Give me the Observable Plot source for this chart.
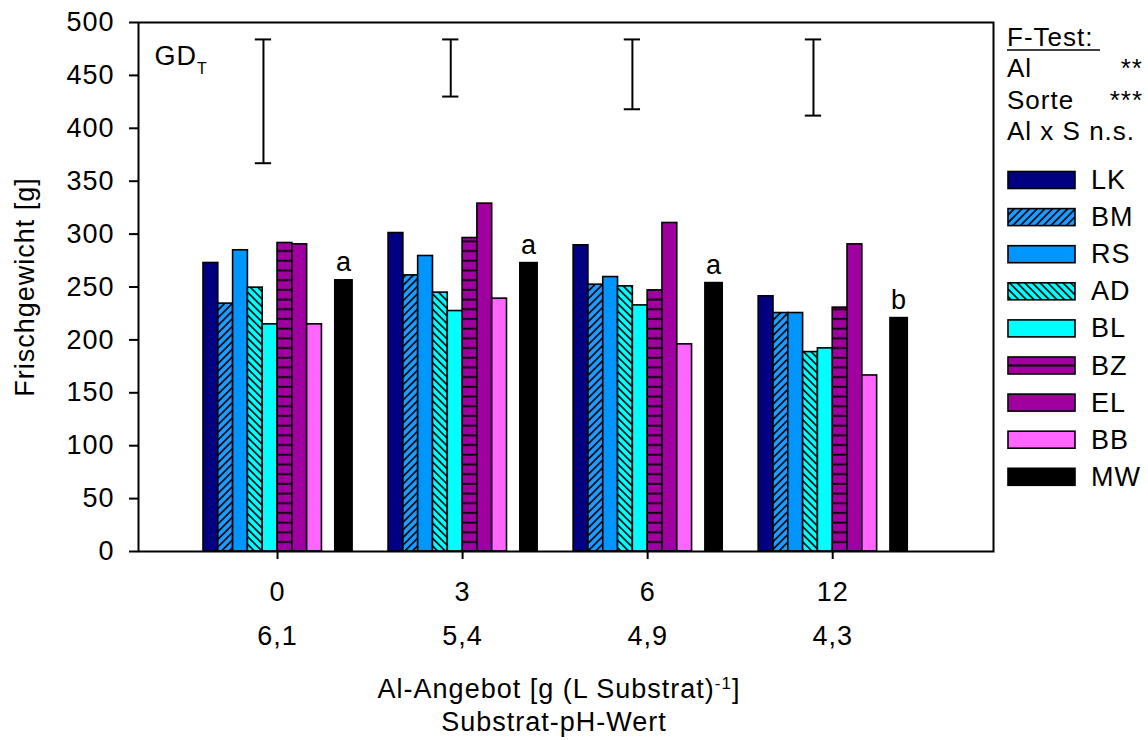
<!DOCTYPE html>
<html><head><meta charset="utf-8">
<script src="https://cdn.jsdelivr.net/npm/d3@7"></script>
<script src="https://cdn.jsdelivr.net/npm/@observablehq/plot@0.6"></script>
<style>
body{margin:0;background:#fff;}
#wrap{position:relative;width:1148px;height:740px;font-family:"Liberation Sans",Arial,sans-serif;}
#wrap svg{position:absolute;left:0;top:0;}
#wrap svg text{letter-spacing:1px;}
</style></head><body><div id="wrap"></div>
<script>
// ---- data ----
const groups = ["0", "3", "6", "12"];              // Al-Angebot
const phValues = ["6,1", "5,4", "4,9", "4,3"];     // Substrat-pH-Wert
const cultivars = ["LK", "BM", "RS", "AD", "BL", "BZ", "EL", "BB", "MW"];
const LK = [272.7, 301.0, 289.4, 241.2];
const BM = [234.3, 261.0, 252.2, 225.4];
const RS = [284.7, 279.3, 259.4, 225.4];
const AD = [249.4, 244.7, 250.6, 188.5];
const BL = [214.7, 227.3, 232.6, 192.0];
const BZ = [291.6, 296.3, 246.8, 230.5];
const EL = [290.3, 328.8, 310.5, 290.3];
const BB = [214.7, 239.0, 195.8, 166.4];
const MW = [256.3, 272.6, 253.7, 220.6];
const letters = ["a", "a", "a", "b"];
const gdTop = [484, 484, 484, 484];
const gdBottom = [367, 430, 418, 412];
const yTicks = [0, 50, 100, 150, 200, 250, 300, 350, 400, 450, 500];
const fTestLabels = ["Al", "Sorte", "Al x S n.s."];
const fTestStars = ["**", "***", ""];

// ---- layout (slot units) ----
const series = {LK, BM, RS, AD, BL, BZ, EL, BB, MW};
const groupStep = 12.5;
const gdOffset = [4.05, 4.2, 3.97, 3.7];
const fills = ["#000080", "url(#pBM)", "#0096FF", "url(#pAD)", "#00FFFF", "url(#pBZ)", "#A000A0", "#FF66FF", "#000000"];
const FS = "27px";

const rows = [];
groups.forEach((g, gi) => cultivars.forEach((c, ci) => {
  const start = ci < 8 ? ci : 8.9;
  const end = ci < 8 ? ci + 1 : 10.07;
  rows.push({group: g, cultivar: c, value: series[c][gi], x1: gi * groupStep + start, x2: gi * groupStep + end});
}));
const mwRows = rows.filter(d => d.cultivar === "MW").map((d, i) => ({...d, letter: letters[i]}));
const centers = groups.map((g, gi) => ({group: g, ph: phValues[gi], x: gi * groupStep + 5}));
const gd = groups.map((g, gi) => ({x: gi * groupStep + gdOffset[gi], top: gdTop[gi], bottom: gdBottom[gi]}));

const chart = Plot.plot({
  width: 1148, height: 740,
  marginLeft: 138, marginRight: 155, marginTop: 22, marginBottom: 189,
  style: {fontSize: FS, fontFamily: "Liberation Sans, Arial, sans-serif", color: "black", background: "transparent"},
  x: {type: "linear", domain: [-4.39, 53.36]},
  y: {domain: [0, 500]},
  color: {type: "ordinal", domain: cultivars, range: fills},
  marks: [
    Plot.rect(rows, {x1: "x1", x2: "x2", y1: d => 0, y2: "value", fill: "cultivar", stroke: "black", strokeWidth: 1.6}),
    Plot.ruleX(gd, {x: "x", y1: "bottom", y2: "top", stroke: "black", strokeWidth: 2}),
    Plot.ruleY(gd, {y: "top", x1: d => d.x - 0.55, x2: d => d.x + 0.55, stroke: "black", strokeWidth: 2}),
    Plot.ruleY(gd, {y: "bottom", x1: d => d.x - 0.55, x2: d => d.x + 0.55, stroke: "black", strokeWidth: 2}),
    Plot.text(mwRows, {x: d => (d.x1 + d.x2) / 2, y: "value", text: "letter", dy: -18, lineAnchor: "middle", fill: "black"}),
    Plot.text(["GD"], {frameAnchor: "top-left", dx: 16, dy: 34, textAnchor: "start", lineAnchor: "middle", fill: "black"}),
    Plot.axisY({ticks: yTicks, tickSize: 9, tickPadding: 15, strokeWidth: 2, label: null}),
    Plot.axisX({ticks: centers.map(d => d.x), tickFormat: v => groups[Math.round((v - 5) / groupStep)], tickSize: 8, tickPadding: 22, strokeWidth: 2, label: null}),
    Plot.text(centers, {x: "x", text: "ph", frameAnchor: "bottom", dy: 85, lineAnchor: "middle", fill: "black"}),
    Plot.text(["Al-Angebot [g (L Substrat)-1]"], {frameAnchor: "bottom", dx: -7, dy: 138, lineAnchor: "middle", fill: "black"}),
    Plot.text(["Substrat-pH-Wert"], {frameAnchor: "bottom", dx: -12, dy: 171, lineAnchor: "middle", fill: "black"}),
    Plot.text(["Frischgewicht [g]"], {frameAnchor: "left", dx: -113, rotate: -90, textAnchor: "middle", lineAnchor: "middle", fill: "black"}),
    Plot.frame({stroke: "black", strokeWidth: 2})
  ]
});

const wrap = d3.select("#wrap");
wrap.node().appendChild(chart);
const svg = d3.select(chart);
svg.selectAll("text").filter(function() { return this.textContent === "GD"; }).each(function() {
  d3.select(this).append("tspan").attr("baseline-shift", "sub").attr("font-size", "16px").text("T");
});
svg.selectAll("text").filter(function() { return this.textContent === "Al-Angebot [g (L Substrat)-1]"; }).each(function() {
  const t = d3.select(this);
  t.text(null);
  t.append("tspan").text("Al-Angebot [g (L Substrat)");
  t.append("tspan").attr("baseline-shift", "super").attr("font-size", "17px").text("-1");
  t.append("tspan").text("]");
});

// pattern defs + legend overlay
const leg = wrap.append("svg").attr("width", 1148).attr("height", 740)
  .style("font-family", "Liberation Sans, Arial, sans-serif").style("font-size", FS);
const defs = leg.append("defs");
function diag(id, bg, angle) {
  const p = defs.append("pattern").attr("id", id).attr("patternUnits", "userSpaceOnUse")
    .attr("width", 5.4).attr("height", 5.4).attr("patternTransform", `rotate(${angle})`);
  p.append("rect").attr("width", 5.4).attr("height", 5.4).attr("fill", bg);
  p.append("line").attr("x1", 0.8).attr("x2", 0.8).attr("y1", 0).attr("y2", 5.4).attr("stroke", "black").attr("stroke-width", 1.6);
}
diag("pBM", "#1E9BFF", 45);
diag("pAD", "#00FFFF", -45);
const pz = defs.append("pattern").attr("id", "pBZ").attr("patternUnits", "userSpaceOnUse").attr("width", 10).attr("height", 9.7);
pz.append("rect").attr("width", 10).attr("height", 9.7).attr("fill", "#A000A0");
pz.append("line").attr("x1", 0).attr("x2", 10).attr("y1", 8.5).attr("y2", 8.5).attr("stroke", "black").attr("stroke-width", 1.8);
const pzl = defs.append("pattern").attr("id", "pBZleg").attr("patternUnits", "objectBoundingBox").attr("width", 1).attr("height", 1);
pzl.append("rect").attr("width", 67).attr("height", 17).attr("fill", "#A000A0");
pzl.append("line").attr("x1", 0).attr("x2", 67).attr("y1", 8.5).attr("y2", 8.5).attr("stroke", "black").attr("stroke-width", 1.8);

// F-Test block
const fs2 = "26px";
leg.append("text").attr("x", 1007).attr("y", 37).attr("font-size", fs2).attr("dominant-baseline", "central").text("F-Test:");
leg.append("line").attr("x1", 1007).attr("x2", 1100).attr("y1", 50).attr("y2", 50).attr("stroke", "black").attr("stroke-width", 1.5);
fTestLabels.forEach((l, i) => {
  const cy = 68 + i * 31.5;
  leg.append("text").attr("x", 1007).attr("y", cy).attr("font-size", fs2).attr("dominant-baseline", "central").text(l);
  if (fTestStars[i]) leg.append("text").attr("x", 1143).attr("y", cy).attr("font-size", fs2).attr("text-anchor", "end").attr("dominant-baseline", "central").text(fTestStars[i]);
});
// cultivar legend
const legFill = c => c === "BZ" ? "url(#pBZleg)" : fills[cultivars.indexOf(c)];
cultivars.forEach((c, i) => {
  const cy = 180 + i * 37.1;
  leg.append("rect").attr("x", 1008).attr("y", cy - 8.5).attr("width", 67).attr("height", 17)
    .attr("fill", legFill(c)).attr("stroke", "black").attr("stroke-width", 1.6);
  leg.append("text").attr("x", 1091).attr("y", cy).attr("dominant-baseline", "central").text(c);
});
</script></body></html>
